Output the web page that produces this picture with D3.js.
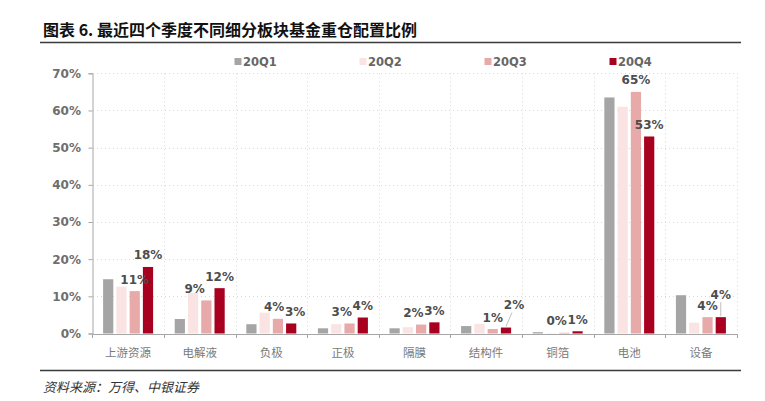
<!DOCTYPE html>
<html>
<head>
<meta charset="utf-8">
<script src="https://cdn.jsdelivr.net/npm/d3@7"></script>
<style>
  html, body { margin: 0; padding: 0; background: #fff; }
  svg { display: block; }
</style>
</head>
<body>
<svg id="chart" width="765" height="401"></svg>
<script>
// ---- data ----
const categories = ["上游资源", "电解液", "负极", "正极", "隔膜", "结构件", "铜箔", "电池", "设备"];
const seriesNames = ["20Q1", "20Q2", "20Q3", "20Q4"];
const q1 = [14.6, 3.9, 2.5, 1.4, 1.4, 2.0, 0.35, 63.5, 10.3];
const q2 = [12.6, 10.9, 5.6, 2.5, 1.7, 2.6, 0.1, 61.0, 2.9];
const q3 = [11.4, 8.9, 3.95, 2.7, 2.4, 1.2, 0.2, 65.0, 4.4];
const q4 = [17.9, 12.2, 2.7, 4.3, 3.0, 1.6, 0.6, 53.0, 4.4];
const yTicks = [0, 10, 20, 30, 40, 50, 60, 70];
const labeledSeries = ["20Q3", "20Q4"];
const titleText = "图表 6. 最近四个季度不同细分板块基金重仓配置比例";
const sourceText = "资料来源：万得、中银证券";

const seriesValues = [q1, q2, q3, q4];
const colors = ["#A5A5A5", "#FAE3E3", "#E8A9A9", "#A8001F"];

const svg = d3.select("#chart");
const latin = "'DejaVu Sans', 'Noto Sans CJK SC', sans-serif";
const cjk = "'Noto Sans CJK SC', sans-serif";

// ---- title / source ----
svg.append("text").attr("x", 43).attr("y", 35.5)
  .attr("font-family", cjk).attr("font-weight", 700).attr("font-size", 16)
  .attr("fill", "#111").text(titleText);
svg.append("line").attr("x1", 40).attr("x2", 741).attr("y1", 42.5).attr("y2", 42.5)
  .attr("stroke", "#3a3a3a").attr("stroke-width", 1.5);
svg.append("line").attr("x1", 40).attr("x2", 741).attr("y1", 370.5).attr("y2", 370.5)
  .attr("stroke", "#3a3a3a").attr("stroke-width", 1.5);
svg.append("text").attr("x", 43).attr("y", 392)
  .attr("font-family", cjk).attr("font-style", "italic").attr("font-size", 13)
  .attr("fill", "#333").text(sourceText);

// ---- scales ----
const x = d3.scaleBand().domain(categories).range([92.3, 736.7]).paddingInner(0).paddingOuter(0);
const xs = d3.scaleBand().domain(seriesNames).range([-25, 25]).paddingInner(0.23).paddingOuter(0);
const y = d3.scaleLinear().domain([0, 70]).range([333.5, 73.3]);

// ---- grid ----
const grid = svg.append("g");
grid.selectAll("line.h").data(yTicks.filter(d => d > 0)).join("line")
  .attr("x1", 93).attr("x2", 737).attr("y1", d => Math.round(y(d)) + 0.5).attr("y2", d => Math.round(y(d)) + 0.5)
  .attr("stroke", "#D9D9D9").attr("stroke-width", 1).attr("stroke-dasharray", "1,3");
grid.selectAll("line.v").data(categories).join("line")
  .attr("x1", d => Math.round(x(d) + x.bandwidth()) + 0.5).attr("x2", d => Math.round(x(d) + x.bandwidth()) + 0.5)
  .attr("y1", y(70)).attr("y2", y(0))
  .attr("stroke", "#D9D9D9").attr("stroke-width", 1).attr("stroke-dasharray", "1,3");

// ---- bars ----
const barData = [];
categories.forEach((c, i) => {
  seriesNames.forEach((s, j) => {
    barData.push({ cat: c, ser: s, j, v: seriesValues[j][i] });
  });
});
svg.append("g").selectAll("rect").data(barData).join("rect")
  .attr("x", d => x(d.cat) + x.bandwidth() / 2 + xs(d.ser))
  .attr("width", xs.bandwidth())
  .attr("y", d => y(d.v))
  .attr("height", d => y(0) - y(d.v))
  .attr("fill", d => colors[d.j]);

// ---- axes ----
const yAxis = d3.axisLeft(y).tickValues(yTicks).tickSize(4).tickFormat(d => d + "%");
const gy = svg.append("g").attr("transform", "translate(92.5,0)").call(yAxis);
gy.select(".domain").attr("stroke", "#A6A6A6");
gy.selectAll(".tick line").attr("stroke", "#A6A6A6");
gy.selectAll(".tick text").attr("font-family", latin).attr("font-weight", 700)
  .attr("font-size", 12).attr("fill", "#6E6E6E").attr("x", -11.5);

const xAxis = d3.axisBottom(x).tickSize(0).tickSizeOuter(0);
const gx = svg.append("g").attr("transform", "translate(0," + (y(0) + 0.5) + ")").call(xAxis);
gx.select(".domain").attr("stroke", "#A6A6A6");
gx.selectAll(".tick text").attr("font-family", cjk).attr("font-size", 11.5)
  .attr("fill", "#7A7A7A").attr("dy", 0).attr("y", 23);
// boundary ticks
gx.selectAll("line.bt").data(d3.range(categories.length + 1)).join("line")
  .attr("class", "bt")
  .attr("x1", i => Math.round(92.3 + i * x.step()) + 0.5)
  .attr("x2", i => Math.round(92.3 + i * x.step()) + 0.5)
  .attr("y1", 0).attr("y2", 4).attr("stroke", "#A6A6A6");

// ---- data labels ----
const fmt = v => Math.round(v) + "%";
const labelLayer = svg.append("g");
const raised = { "结构件": 8, "设备": 0 };
categories.forEach((c, i) => {
  const j3 = seriesNames.indexOf("20Q3"), j4 = seriesNames.indexOf("20Q4");
  const cx3 = x(c) + x.bandwidth() / 2 + xs("20Q3") + xs.bandwidth() / 2;
  const cx4 = x(c) + x.bandwidth() / 2 + xs("20Q4") + xs.bandwidth() / 2;
  const top3 = y(seriesValues[j3][i]);
  const top4 = y(seriesValues[j4][i]);
  const t3 = fmt(seriesValues[j3][i]), t4 = fmt(seriesValues[j4][i]);
  const w = t => t.length === 2 ? 20 : 28;
  let lx3 = cx3, ly3 = top3 - 12;
  let lx4 = cx4, ly4 = top4 - 12;
  if (c in raised) {
    lx4 = cx4 + raised[c];
    ly4 = top4 - 23;
    labelLayer.append("line")
      .attr("x1", cx4).attr("y1", top4 - 1)
      .attr("x2", lx4 - (raised[c] ? 2 : 0)).attr("y2", ly4 + 8)
      .attr("stroke", "#BFBFBF").attr("stroke-width", 1);
  } else {
    // avoid overlap between neighbouring labels
    const overlapX = (lx3 + w(t3) / 2 + 1) - (lx4 - w(t4) / 2);
    const overlapY = Math.abs(ly3 - ly4) < 14;
    if (overlapX > 0 && overlapY) {
      const shift4 = Math.abs(ly3 - ly4) > 3 && top4 > top3 ? Math.min(5, overlapX / 2) : 0;
      lx4 += shift4;
      lx3 -= (overlapX - shift4);
    }
  }
  [[lx3, ly3, t3], [lx4, ly4, t4]].forEach(([lx, ly, t]) => {
    labelLayer.append("text").attr("x", lx).attr("y", ly + 4.5)
      .attr("text-anchor", "middle")
      .attr("font-family", latin).attr("font-weight", 700).attr("font-size", 12)
      .attr("fill", "#4D4D4D").text(t);
  });
});

// ---- legend ----
const legend = svg.append("g");
seriesNames.forEach((s, j) => {
  const lx = 234.5 + j * 125;
  legend.append("rect").attr("x", lx).attr("y", 58).attr("width", 7).attr("height", 7)
    .attr("fill", colors[j]);
  legend.append("text").attr("x", lx + 8.5).attr("y", 65.5)
    .attr("font-family", latin).attr("font-weight", 700).attr("font-size", 11.5)
    .attr("fill", "#666").text(s);
});
</script>
</body>
</html>
